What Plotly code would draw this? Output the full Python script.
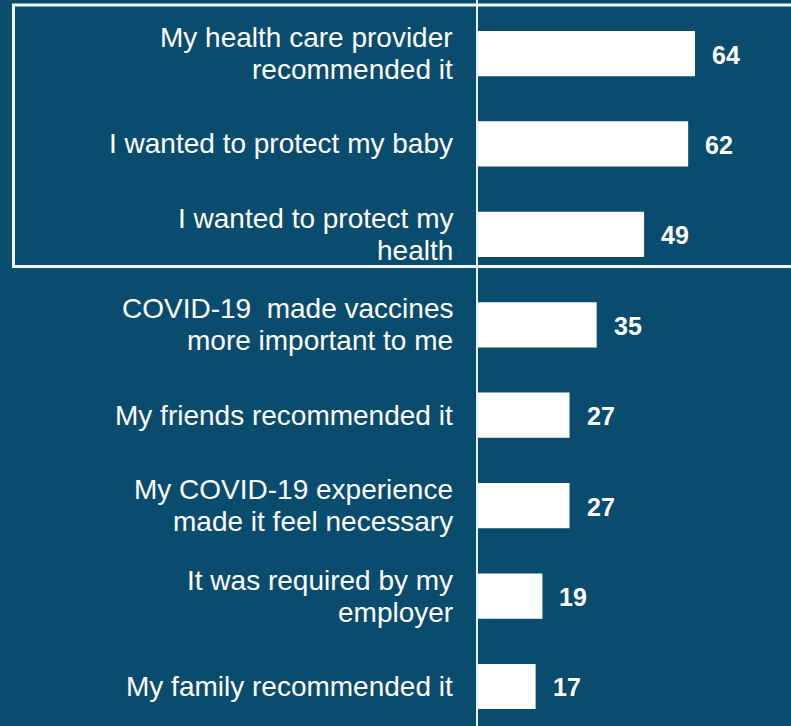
import plotly.graph_objects as go

# Reasons for getting vaccinated (percent of respondents), top to bottom
reasons = [
    "My health care provider<br>recommended it",
    "I wanted to protect my baby",
    "I wanted to protect my<br>health",
    "COVID-19  made vaccines<br>more important to me",
    "My friends recommended it",
    "My COVID-19 experience<br>made it feel necessary",
    "It was required by my<br>employer",
    "My family recommended it",
]
percents = [64, 62, 49, 35, 27, 27, 19, 17]

BG = "#0a4c6d"
FG = "#ffffff"
FONT = "Liberation Sans, Arial, sans-serif"

fig = go.Figure(
    go.Bar(
        x=percents,
        y=list(range(len(reasons))),
        orientation="h",
        marker=dict(color=FG, line=dict(width=0)),
        hoverinfo="skip",
    )
)

annotations = []
line_gap = 32  # px between wrapped label lines
for i, (label, val) in enumerate(zip(reasons, percents)):
    lines = label.split("<br>")
    n = len(lines)
    for j, line in enumerate(lines):
        offset = (j - (n - 1) / 2) * line_gap
        annotations.append(dict(
            x=0, xref="paper", y=i, yref="y",
            xanchor="right", yanchor="middle",
            xshift=-23, yshift=-offset,
            text=line, showarrow=False,
            font=dict(family=FONT, size=28, color=FG),
        ))
    annotations.append(dict(
        x=val, xref="x", y=i, yref="y",
        xanchor="left", yanchor="middle",
        xshift=15, yshift=-1,
        text=f"<b>{val}</b>", showarrow=False,
        font=dict(family=FONT, size=25, color=FG),
    ))

fig.update_layout(
    width=791, height=726,
    margin=dict(l=478, r=0, t=0, b=0),
    paper_bgcolor=BG, plot_bgcolor=BG,
    bargap=0.5,
    showlegend=False,
    annotations=annotations,
    xaxis=dict(range=[0, 92.33], visible=False, fixedrange=True),
    yaxis=dict(
        range=[7.437, -0.592],
        showticklabels=False, showgrid=False, zeroline=False,
        showline=True, linecolor="#e6f0f5", linewidth=2,
        fixedrange=True,
    ),
    shapes=[
        # highlight box around the three leading reasons
        dict(
            type="rect", xref="paper", yref="y",
            x0=-1.484, x1=1.2, y0=-0.537, y1=2.356,
            line=dict(color="#f2f7fa", width=3),
            fillcolor="rgba(0,0,0,0)", layer="above",
        )
    ],
)

fig.write_html("out.html")
